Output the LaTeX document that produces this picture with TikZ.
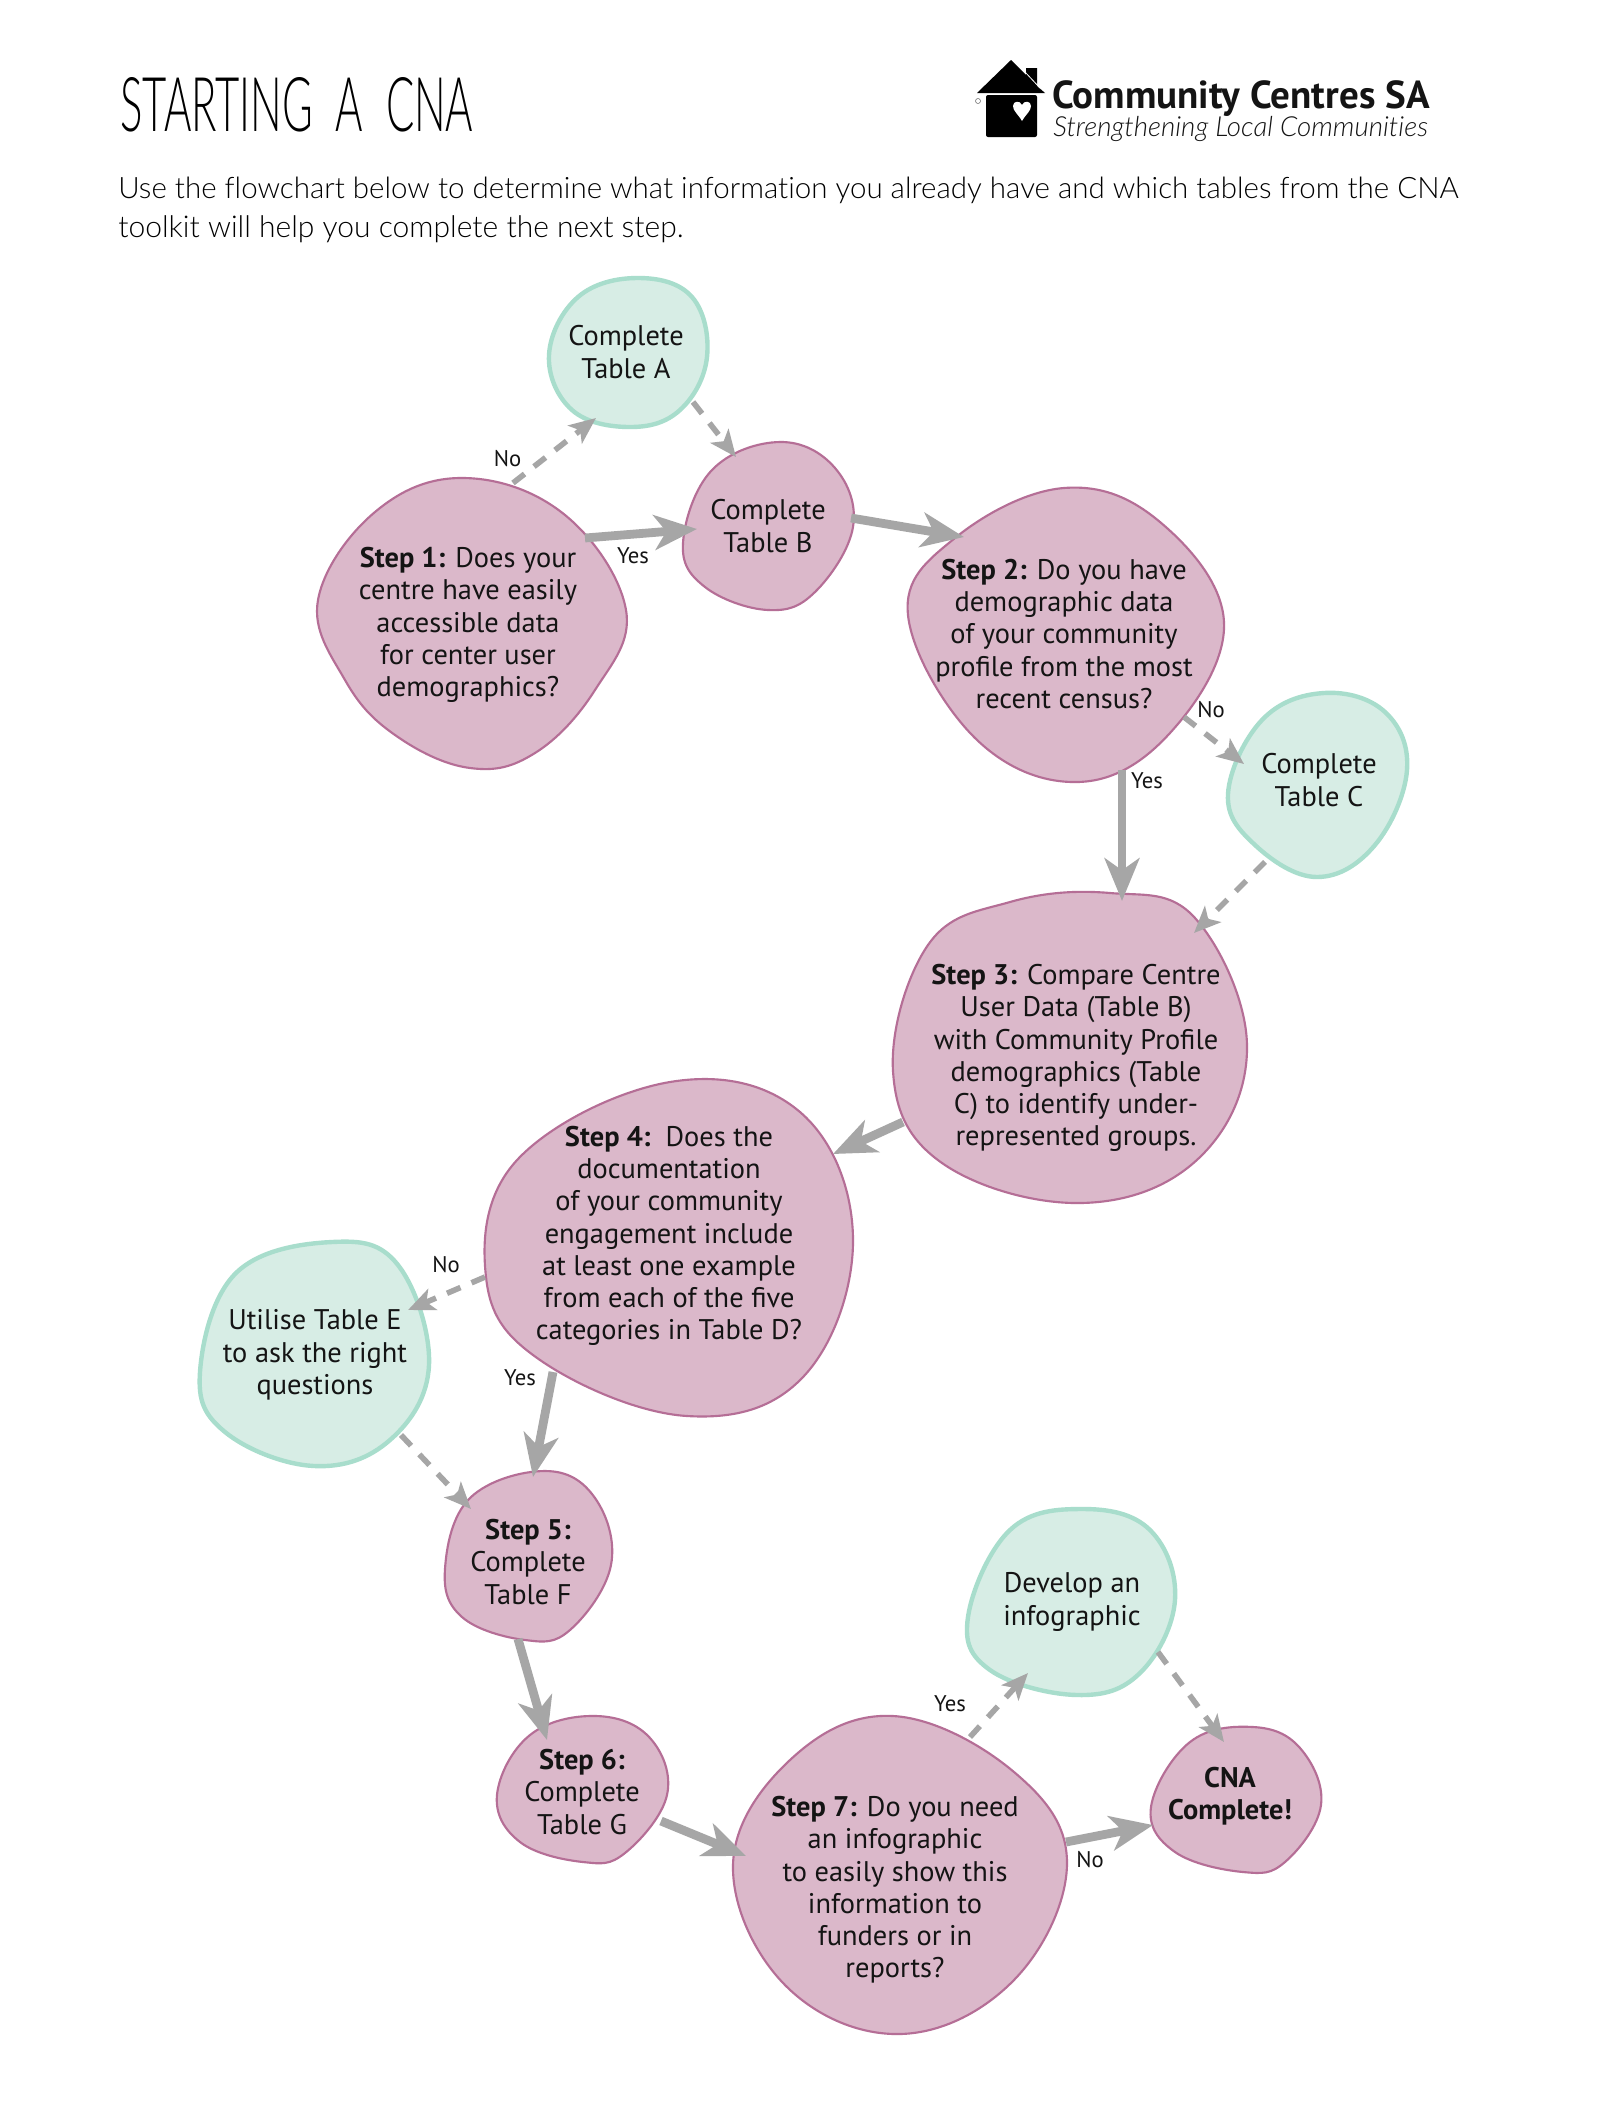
\documentclass[tikz,border=0pt]{standalone}
\usepackage{fontspec}
\usepackage{graphicx}
\setmainfont{PT Sans}
\newfontfamily\thinfont[Ligatures=NoCommon]{Lato Light}
\usetikzlibrary{arrows.meta}
\definecolor{pinkfill}{HTML}{DBB8CA}
\definecolor{pinkline}{HTML}{B56E96}
\definecolor{greenfill}{HTML}{D7EDE5}
\definecolor{greenline}{HTML}{A8DDCC}
\definecolor{arrowgrey}{HTML}{A6A6A6}
\definecolor{ink}{HTML}{141414}
\tikzset{
  pinkblob/.style={draw=pinkline,fill=pinkfill,line width=1.6pt},
  greenblob/.style={draw=greenline,fill=greenfill,line width=3.3pt},
  txt/.style={align=center,inner sep=0pt,text=ink,font=\fontsize{21.3}{24.2}\selectfont},
  lab/.style={inner sep=0pt,text=ink,font=\fontsize{17}{18}\selectfont},
  solidarrow/.style={draw=arrowgrey,line width=6.6pt,-{Stealth[length=32pt,width=26pt,inset=9pt,fill=arrowgrey]}},
  dasharrow/.style={draw=arrowgrey,line width=4.2pt,dash pattern=on 11pt off 9pt,-{Stealth[length=20pt,width=17pt,inset=5pt,fill=arrowgrey]}},
  blobcurve/.style={smooth cycle,tension=0.66},
}
\begin{document}
\begin{tikzpicture}[x=0.75pt,y=-0.75pt]
\useasboundingbox (0,0) rectangle (1600,2128);
\fill[white] (0,0) rectangle (1600,2128);

% heading
\node[anchor=south west,inner sep=0pt,text=black] (title) at (120,132) {\resizebox{264.75pt}{40.5pt}{\thinfont STARTING\ \ A\ \ CNA}};
\node[anchor=base west,inner sep=0pt,text=black] (intro1) at (118,198) {\resizebox{1005pt}{!}{\thinfont\fontsize{20}{24}\selectfont Use the flowchart below to determine what information you already have and which tables from the CNA}};
\node[anchor=base west,inner sep=0pt,text=black] (intro2) at (118,237) {\resizebox{424pt}{!}{\thinfont\fontsize{20}{24}\selectfont toolkit will help you complete the next step.}};

% logo
\fill[black] (1011,60) -- (1026,75) -- (1026,68) -- (1037,68) -- (1037,86) -- (1045,93) -- (977,93) -- cycle;
\draw[white,line width=0.6pt] (1025,72) -- (1040,88);
\fill[black,rounded corners=1.5pt] (986,95) rectangle (1037,137);
\fill[white] (1022,121) .. controls (1018,114) and (1013,111) .. (1013,106) .. controls (1013,101) and (1020,100) .. (1022,105) .. controls (1024,100) and (1031,101) .. (1031,106) .. controls (1031,111) and (1026,114) .. (1022,121) -- cycle;
\draw[black!60,line width=0.4pt] (978,101) circle (2.5);
\node[anchor=base west,inner sep=0pt,text=ink] (logo1) at (1052,108) {\resizebox{283pt}{!}{\fontsize{20}{24}\selectfont\bfseries Community Centres SA}};
\node[anchor=base west,inner sep=0pt,text=ink] (logo2) at (1053,136) {\resizebox{281pt}{!}{\thinfont\fontsize{14}{16}\selectfont\itshape Strengthening Local Communities}};

% blobs
\draw[greenblob] plot[blobcurve] coordinates {(638,278)(692,297)(707,357)(680,410)(630,427)(572,410)(549,355)(578,297)};
\draw[pinkblob] plot[blobcurve] coordinates {(780,442)(835,468)(853,527)(815,592)(768,610)(705,587)(683,543)(712,470)};
\draw[pinkblob] plot[blobcurve] coordinates {(464,478)(565,515)(626,610)(595,690)(535,753)(470,768)(395,735)(345,680)(318,600)(375,512)};
\draw[pinkblob] plot[blobcurve] coordinates {(1064,488)(1160,522)(1224,622)(1170,733)(1078,782)(975,738)(908,615)(955,538)};
\draw[greenblob] plot[blobcurve] coordinates {(1324,693)(1385,712)(1407,770)(1375,845)(1317,877)(1255,845)(1228,794)(1262,720)};
\draw[pinkblob] plot[blobcurve] coordinates {(1110,893)(1195,918)(1247,1045)(1199,1158)(1081,1203)(942,1163)(893,1071)(928,945)(1010,902)};
\draw[pinkblob] plot[blobcurve] coordinates {(670,1082)(800,1112)(853,1238)(804,1376)(687,1416)(540,1360)(486,1277)(518,1159)};
\draw[greenblob] plot[blobcurve] coordinates {(332,1242)(398,1265)(429,1365)(390,1440)(314,1466)(225,1432)(200,1372)(236,1273)};
\draw[pinkblob] plot[blobcurve] coordinates {(545,1471)(595,1498)(611,1565)(570,1630)(525,1640)(462,1617)(445,1569)(470,1498)};
\draw[pinkblob] plot[blobcurve] coordinates {(596,1716)(650,1738)(667,1795)(625,1853)(583,1862)(520,1842)(497,1795)(530,1735)};
\draw[pinkblob] plot[blobcurve] coordinates {(893,1716)(1014,1772)(1067,1863)(1014,1980)(900,2034)(785,1985)(733,1865)(790,1760)};
\draw[greenblob] plot[blobcurve] coordinates {(1083,1509)(1150,1530)(1175,1600)(1140,1673)(1077,1695)(990,1670)(968,1617)(1010,1530)};
\draw[pinkblob] plot[blobcurve] coordinates {(1253,1727)(1300,1748)(1321,1805)(1285,1862)(1243,1872)(1175,1852)(1151,1807)(1190,1742)};

% nodes
\node[txt] (tableA) at (626,352) {Complete\\Table A};
\node[txt] (tableB) at (768,526) {Complete\\Table B};
\node[txt] (step1) at (468,625) {\textbf{Step 1:} Does your\\centre have easily\\accessible data\\for center user\\demographics?};
\node[txt] (step2) at (1064,634) {\textbf{Step 2:} Do you have\\demographic data\\of your community\\profile from the most\\recent census?};
\node[txt] (tableC) at (1319,780) {Complete\\Table C};
\node[txt] (step3) at (1076,1058) {\textbf{Step 3:} Compare Centre\\User Data (Table B)\\with Community Profile\\demographics (Table\\C) to identify under-\\represented groups.};
\node[txt] (step4) at (669,1236) {\textbf{Step 4:}\ \ Does the\\documentation\\of your community\\engagement include\\at least one example\\from each of the five\\categories in Table D?};
\node[txt] (tableE) at (315,1355) {Utilise Table E\\to ask the right\\questions};
\node[txt] (step5) at (528,1562) {\textbf{Step 5:}\\Complete\\Table F};
\node[txt] (step6) at (582,1792) {\textbf{Step 6:}\\Complete\\Table G};
\node[txt] (step7) at (895,1890) {\textbf{Step 7:} Do you need\\an infographic\\to easily show this\\information to\\funders or in\\reports?};
\node[txt] (infog) at (1072,1602) {Develop an\\infographic};
\node[txt,font=\fontsize{21.3}{24.2}\selectfont\bfseries] (done) at (1230,1796) {CNA\\Complete!};

% connector labels
\node[lab] (l1) at (507.5,459) {No};
\node[lab] (l2) at (633,556) {Yes};
\node[lab] (l3) at (1211,710) {No};
\node[lab] (l4) at (1147,781) {Yes};
\node[lab] (l5) at (446,1265) {No};
\node[lab] (l6) at (520,1378) {Yes};
\node[lab] (l7) at (950,1704) {Yes};
\node[lab] (l8) at (1090,1860) {No};

% connectors
\draw[dasharrow] ([shift={(45,-142)}]step1.center) -- ([shift={(-30,66)}]tableA.center);
\draw[dasharrow] ([shift={(67,50)}]tableA.center) -- ([shift={(-32,-69)}]tableB.center);
\draw[solidarrow] ([shift={(117,-87)}]step1.center) -- ([shift={(-71,3)}]tableB.center);
\draw[solidarrow] ([shift={(83,-8)}]tableB.center) -- ([shift={(-100,-97)}]step2.center);
\draw[dasharrow] ([shift={(120,83)}]step2.center) -- ([shift={(-75,-16)}]tableC.center);
\draw[solidarrow] ([shift={(58,136)}]step2.center) -- ([shift={(46,-157)}]step3.center);
\draw[dasharrow] ([shift={(-54,82)}]tableC.center) -- ([shift={(118,-125)}]step3.center);
\draw[solidarrow] ([shift={(-173,64)}]step3.center) -- ([shift={(164,-82)}]step4.center);
\draw[dasharrow] ([shift={(-184,41)}]step4.center) -- ([shift={(93,-45)}]tableE.center);
\draw[solidarrow] ([shift={(-116,136)}]step4.center) -- ([shift={(5,-85)}]step5.center);
\draw[dasharrow] ([shift={(86,80)}]tableE.center) -- ([shift={(-57,-53)}]step5.center);
\draw[solidarrow] ([shift={(-10,77)}]step5.center) -- ([shift={(-35,-52)}]step6.center);
\draw[solidarrow] ([shift={(79,29)}]step6.center) -- ([shift={(-149,-34)}]step7.center);
\draw[dasharrow] ([shift={(75,-153)}]step7.center) -- ([shift={(-44,71)}]infog.center);
\draw[dasharrow] ([shift={(86,50)}]infog.center) -- ([shift={(-6,-54)}]done.center);
\draw[solidarrow] ([shift={(171,-48)}]step7.center) -- ([shift={(-77,29)}]done.center);
\end{tikzpicture}
\end{document}
